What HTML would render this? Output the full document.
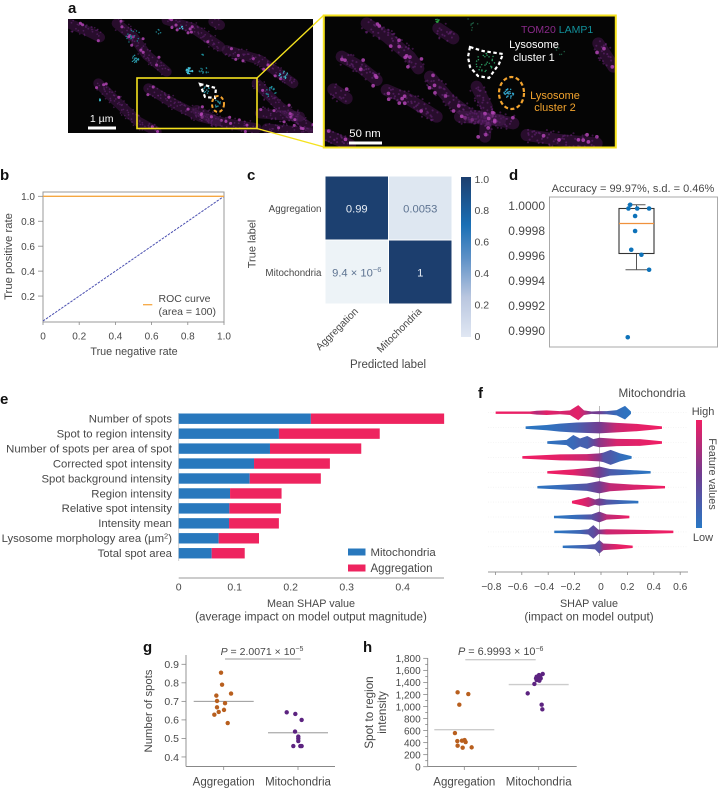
<!DOCTYPE html>
<html lang="en">
<head>
<meta charset="utf-8">
<title>Lysosome classification figure</title>
<style>
html,body{margin:0;padding:0;background:#fff;width:719px;height:788px;overflow:hidden}
svg{display:block}
text{font-family:"Liberation Sans",sans-serif;font-size:10.5px;fill:#484848}
.pl{font-size:15px;font-weight:bold;fill:#111}
</style>
</head>
<body>
<svg id="fig" width="719" height="788" viewBox="0 0 719 788" xmlns="http://www.w3.org/2000/svg">
<defs>
<clipPath id="clipA"><rect x="68" y="19" width="245" height="114"/></clipPath>
<clipPath id="clipI"><rect x="323" y="15" width="293" height="133"/></clipPath>
<filter id="soft" x="-5%" y="-5%" width="110%" height="110%"><feGaussianBlur stdDeviation="0.55"/></filter>
</defs>

<!-- panel letters -->
<text class="pl" x="68" y="13">a</text>
<text class="pl" x="0" y="180">b</text>
<text class="pl" x="247" y="180">c</text>
<text class="pl" x="509" y="180">d</text>
<text class="pl" x="0" y="404">e</text>
<text class="pl" x="478" y="398">f</text>
<text class="pl" x="143" y="652">g</text>
<text class="pl" x="363" y="652">h</text>

<!-- panel a -->
<g>
<rect x="68" y="19" width="245" height="114" fill="#050505"/>
<g id="overviewTubes" clip-path="url(#clipA)"></g>
<rect x="323" y="15" width="293" height="133" fill="#050505"/>
<g id="insetTubes" clip-path="url(#clipI)"></g>
<path d="M200,84 L216,88 L215,98 L205,97 Z" fill="none" stroke="#fff" stroke-width="2.2" stroke-dasharray="3.5 2.5"/>
<ellipse cx="218" cy="104" rx="6" ry="8" fill="none" stroke="#f2a32e" stroke-width="2" stroke-dasharray="3.5 2.5"/>
<rect x="137" y="78" width="120" height="50.5" fill="none" stroke="#f5e21e" stroke-width="1.6"/>
<line x1="257" y1="78" x2="324" y2="15" stroke="#f5e21e" stroke-width="1.4"/>
<line x1="257" y1="128.5" x2="324" y2="147" stroke="#f5e21e" stroke-width="1.4"/>
<rect x="323.8" y="15.5" width="292" height="132" fill="none" stroke="#f5e21e" stroke-width="2"/>
<path d="M470,47 L483,51 L503,54 L499,64 L489,78 L478,76 L470,67 L468,57 Z" fill="none" stroke="#fff" stroke-width="2.2" stroke-dasharray="3.5 2.5"/>
<ellipse cx="511.5" cy="93" rx="12.5" ry="16" fill="none" stroke="#f2a32e" stroke-width="2.2" stroke-dasharray="4 2.5"/>
<rect x="88" y="126.5" width="28" height="3" fill="#fff"/>
<text x="101.7" y="122" text-anchor="middle" style="fill:#fff">1 µm</text>
<rect x="349" y="141.5" width="33" height="3" fill="#fff"/>
<text x="365" y="137" text-anchor="middle" style="fill:#fff;font-size:11.3px">50 nm</text>
<text x="521" y="33"><tspan style="fill:#8a2a8a">TOM20</tspan> <tspan style="fill:#12909a">LAMP1</tspan></text>
<text text-anchor="middle" style="font-size:11px"><tspan x="534" y="48" style="fill:#fff">Lysosome</tspan><tspan x="534" y="61" style="fill:#fff">cluster 1</tspan></text>
<text text-anchor="middle" style="font-size:11px"><tspan x="555" y="99" style="fill:#f2a32e">Lysosome</tspan><tspan x="555" y="111" style="fill:#f2a32e">cluster 2</tspan></text>
</g>

<!-- static axis titles -->
<g id="rocChart">
<text x="134" y="355" text-anchor="middle" style="font-size:10.8px">True negative rate</text>
<text transform="translate(12,256.5) rotate(-90)" text-anchor="middle" style="font-size:11.3px">True positive rate</text>
<line x1="143" y1="304.7" x2="152.3" y2="304.7" stroke="#f5a742" stroke-width="1.3"/>
<text><tspan x="158.5" y="302">ROC curve</tspan><tspan x="158.5" y="315">(area = 100)</tspan></text>
</g>
<g id="cmChart">
<text transform="translate(255.5,244) rotate(-90)" text-anchor="middle" style="font-size:11px">True label</text>
<text x="388" y="368" text-anchor="middle" style="font-size:11.5px">Predicted label</text>
</g>
<g id="boxChart">
<text x="633" y="192" text-anchor="middle" style="font-size:11px">Accuracy = 99.97%, s.d. = 0.46%</text>
<rect x="549.5" y="197" width="168" height="150" fill="none" stroke="#aaa" stroke-width="1"/>
</g>
<g id="barChart">
<text text-anchor="middle"><tspan x="311" y="607" style="font-size:10.8px">Mean SHAP value</tspan><tspan x="311" y="620.5" style="font-size:11.65px">(average impact on model output magnitude)</tspan></text>
<rect x="348" y="548.5" width="17.5" height="7" fill="#2878bd"/>
<text x="370.5" y="556" style="font-size:11.4px">Mitochondria</text>
<rect x="348" y="564.5" width="17.5" height="7" fill="#ee245f"/>
<text x="370.5" y="572" style="font-size:11.5px">Aggregation</text>
</g>
<g id="swarmChart">
<text x="652" y="397" text-anchor="middle" style="font-size:11.7px">Mitochondria</text>
<text text-anchor="middle"><tspan x="589" y="607" style="font-size:10.8px">SHAP value</tspan><tspan x="589" y="620.5" style="font-size:11.7px">(impact on model output)</tspan></text>
<text x="703" y="415" text-anchor="middle" style="font-size:11px">High</text>
<text x="703" y="541" text-anchor="middle" style="font-size:11px">Low</text>
<text transform="translate(709,474) rotate(90)" text-anchor="middle" style="font-size:10.8px">Feature values</text>
</g>
<g id="gChart">
<text transform="translate(152,711) rotate(-90)" text-anchor="middle" style="font-size:11.3px">Number of spots</text>
<text x="262" y="655" text-anchor="middle"><tspan font-style="italic">P</tspan> = 2.0071 × 10<tspan dy="-4" font-size="7">−5</tspan></text>
<line x1="225" y1="659" x2="300.7" y2="659" stroke="#999" stroke-width="1"/>
</g>
<g id="hChart">
<text text-anchor="middle" transform="translate(373,712.5) rotate(-90)" style="font-size:11.6px"><tspan x="0" y="0">Spot to region</tspan><tspan x="0" y="13">intensity</tspan></text>
<text x="500.7" y="655" text-anchor="middle" style="font-size:10.9px"><tspan font-style="italic">P</tspan> = 6.9993 × 10<tspan dy="-4" font-size="7">−6</tspan></text>
<line x1="465.3" y1="659.7" x2="535.7" y2="659.7" stroke="#ccc" stroke-width="1.4"/>
</g>
</svg>

<script>
/* ---------- microscopy texture (not chart data) ---------- */
const overviewMito = [
 [[210,72],[255,90],[300,112]], [[350,70],[400,110],[440,165],[500,215]], [[500,60],[580,85],[660,140]], [[680,150],[780,180],[880,250]],
 [[295,250],[345,300],[415,365],[470,395]], [[445,265],[520,310],[600,350],[680,370],[770,385]], [[770,250],[840,320],[940,390]],
 [[590,330],[650,365]], [[800,385],[930,398]], [[780,340],[900,350]], [[640,65],[660,75]]
];
const overviewSpeckle = [[568,213,10,30,"#45c0d8"],[612,212,16,14,"#1f7f8c"],[400,110,22,16,"#1f7f8c"],[405,178,12,18,"#2a98a8"],[810,275,18,16,"#1f8f9c"],[850,225,14,12,"#40c0d0"],[300,300,3,4,"#40d0e0"],[545,85,6,5,"#40d0e0"],[650,310,12,10,"#2a98a8"],[620,270,12,10,"#2a98a8"],[475,95,8,5,"#1f7f8c"],[610,163,4,3,"#1f8f9c"]];
const insetMito = [
 [[140,70],[200,110],[270,170],[295,205]], [[65,170],[120,200],[170,240]], [[200,270],[270,300],[350,350]], [[330,230],[390,300],[450,345],[580,370]],
 [[470,260],[500,320],[495,410]], [[20,405],[90,435]], [[620,405],[720,420],[830,430]], [[835,130],[880,200]], [[355,85],[400,115]], [[40,268],[80,295]], [[420,350],[540,360]]
];
const insetSpeckle = [[565,280,16,28,"#35a8d0"],[495,185,30,30,"#2a9a60"],[352,62,6,14,"#2a9a40"],[720,150,16,6,"#1f5a40"],[450,70,26,8,"#1f5a40"]];

/* ---------- ROC chart values ---------- */
const rocX = [0, 1];
const rocY = [1, 1];
const chanceX = [0, 1];
const chanceY = [0, 1];
const rocTicksX = [0, 0.2, 0.4, 0.6, 0.8, 1.0];
const rocTickLabelsX = ["0", "0.2", "0.4", "0.6", "0.8", "1.0"];
const rocTicksY = [0.2, 0.4, 0.6, 0.8, 1.0];
const rocTickLabelsY = ["0.2", "0.4", "0.6", "0.8", "1.0"];

/* ---------- confusion matrix values ---------- */
const cmClasses = ["Aggregation", "Mitochondria"];
const cmValues = [[0.99, 0.0053], [0.0000094, 1]];
const cmLabels = [["0.99", "0.0053"], ["9.4 × 10^−6", "1"]];
const cmBarTicks = [0, 0.2, 0.4, 0.6, 0.8, 1.0];
const cmBarLabels = ["0", "0.2", "0.4", "0.6", "0.8", "1.0"];

/* ---------- box plot values ---------- */
const accuracies = [1.00001, 0.99998, 0.99998, 0.99998, 0.99992, 0.9998, 0.99965, 0.99961, 0.99949, 0.99895];
const accuracyJitter = [-0.18, -0.23, 0.02, 0.36, -0.04, -0.04, -0.15, 0.14, 0.36, -0.25];
const boxQ3 = 0.99998;
const boxMedian = 0.99986;
const boxQ1 = 0.99962;
const whiskerLow = 0.99949;
const whiskerHigh = 1.00001;
const accuracyTicks = [1.0, 0.9998, 0.9996, 0.9994, 0.9992, 0.999];
const accuracyTickLabels = ["1.0000", "0.9998", "0.9996", "0.9994", "0.9992", "0.9990"];

/* ---------- stacked bar values ---------- */
const features = ["Number of spots", "Spot to region intensity", "Number of spots per area of spot", "Corrected spot intensity", "Spot background intensity", "Region intensity", "Relative spot intensity", "Intensity mean", "Lysosome morphology area (µm^2)", "Total spot area"];
const shapMito = [0.236, 0.179, 0.163, 0.1345, 0.1268, 0.0917, 0.0905, 0.0899, 0.0714, 0.0589];
const shapAgg = [0.238, 0.180, 0.163, 0.1355, 0.127, 0.092, 0.092, 0.089, 0.072, 0.059];
const barTicks = [0, 0.1, 0.2, 0.3, 0.4];
const barTickLabels = ["0", "0.1", "0.2", "0.3", "0.4"];

/* ---------- beeswarm values: SHAP value, density, feature value ---------- */
const swarmShap = [
 [-0.798,-0.538,-0.487,-0.412,-0.311,-0.235,-0.172,-0.129,-0.071,-0.013,0.043,0.119,0.182,0.227],
 [-0.571,-0.412,-0.311,-0.184,-0.013,0.119,0.270,0.462],
 [-0.407,-0.260,-0.210,-0.159,-0.104,-0.058,-0.013,0.119,0.295,0.462],
 [-0.596,-0.311,-0.108,-0.013,0.018,0.073,0.144,0.232],
 [-0.407,-0.210,-0.083,-0.013,0.068,0.220,0.376],
 [-0.482,-0.311,-0.108,-0.013,0.068,0.245,0.485],
 [-0.220,-0.146,-0.096,-0.045,-0.013,0.043,0.144,0.283],
 [-0.356,-0.331,-0.184,-0.071,-0.013,0.043,0.144,0.215],
 [-0.354,-0.316,-0.159,-0.096,-0.058,-0.020,0.043,0.346,0.548],
 [-0.290,-0.109,-0.045,-0.013,0.018,0.119,0.240]
];
const swarmDensity = [
 [2,2,4,5,3,5,20,5,2,3,3,6,18,2],
 [2,6,10,13,15,12,9,2],
 [2,6,20,10,17,8,12,9,8,2],
 [2,7,8,10,12,20,10,2],
 [2,7,11,15,8,5,2],
 [2,5,9,16,10,6,2],
 [2,8,13,6,9,6,4,2],
 [2,2,5,6,14,6,4,2],
 [2,2,4,6,18,5,6,4,2],
 [2,4,6,18,8,6,2]
];
const swarmFeature = [
 [1,0.95,0.75,0.95,0.9,0.9,0.95,0.8,0.5,0.5,0.25,0.1,0.05,0.03],
 [0.02,0.05,0.1,0.2,0.5,0.85,0.95,1],
 [0.05,0.1,0.12,0.2,0.2,0.4,0.6,0.9,0.95,1],
 [1,0.95,0.85,0.6,0.3,0.25,0.1,0.02],
 [1,0.95,0.7,0.5,0.25,0.1,0.02],
 [0.03,0.1,0.3,0.5,0.8,0.9,1],
 [1,0.95,0.85,0.6,0.5,0.3,0.15,0.03],
 [0.03,0.03,0.1,0.3,0.5,0.8,0.9,1],
 [0.03,0.03,0.15,0.3,0.35,0.5,0.85,0.95,1],
 [0.03,0.2,0.3,0.3,0.7,0.95,1]
];
const swarmTicks = [-0.8, -0.6, -0.4, -0.2, 0, 0.2, 0.4, 0.6];
const swarmTickLabels = ["−0.8", "−0.6", "−0.4", "−0.2", "0", "0.2", "0.4", "0.6"];

/* ---------- dot plot g values ---------- */
const dotCategories = ["Aggregation", "Mitochondria"];
const spotsAgg = [0.855, 0.79, 0.742, 0.731, 0.702, 0.69, 0.668, 0.654, 0.643, 0.628, 0.583];
const spotsAggJitter = [-0.036, -0.022, 0.099, -0.099, -0.09, 0.018, -0.09, 0.004, -0.067, -0.126, 0.054];
const spotsMito = [0.641, 0.632, 0.60, 0.537, 0.51, 0.499, 0.486, 0.459, 0.459, 0.459];
const spotsMitoJitter = [-0.152, -0.036, 0.049, -0.04, 0.004, 0.004, 0.004, -0.063, 0.031, 0.049];
const spotsMeans = [0.70, 0.53];
const spotsTicks = [0.4, 0.5, 0.6, 0.7, 0.8, 0.9];
const spotsTickLabels = ["0.4", "0.5", "0.6", "0.7", "0.8", "0.9"];

/* ---------- dot plot h values ---------- */
const intensityAgg = [1235, 1207, 1030, 559, 426, 432, 443, 410, 349, 316, 321];
const intensityAggJitter = [-0.09, 0.054, -0.067, -0.126, -0.094, -0.031, 0.004, 0.018, -0.09, -0.022, 0.099];
const intensityMito = [1540, 1523, 1495, 1495, 1468, 1457, 1468, 1440, 1429, 1374, 1218, 1030, 953];
const intensityMitoJitter = [0.054, 0.004, -0.027, 0.018, -0.036, -0.004, 0.027, -0.027, 0.009, -0.058, -0.148, 0.04, 0.049];
const intensityMeans = [615, 1365];
const intensityTicks = [0, 200, 400, 600, 800, 1000, 1200, 1400, 1600, 1800];
const intensityTickLabels = ["0", "200", "400", "600", "800", "1,000", "1,200", "1,400", "1,600", "1,800"];

/* ---------- helpers ---------- */
const NS = "http://www.w3.org/2000/svg";
function make(tag, attrs, parent) {
  const el = document.createElementNS(NS, tag);
  for (const k in attrs) el.setAttribute(k, attrs[k]);
  parent.appendChild(el);
  return el;
}
function tick(parent, x1, y1, x2, y2, color) {
  const t = make("line", {x1: x1, y1: y1, x2: x2, y2: y2, stroke: color || "#888", "stroke-width": 0.8}, parent);
  
  
  return t;
}
function label(parent, x, y, txt, anchor, size) {
  const t = make("text", {x: x, y: y, "text-anchor": anchor || "middle"}, parent);
  if (size) t.style.fontSize = size + "px";
  t.textContent = txt;
  
  
  return t;
}
function axisLine(parent, x1, y1, x2, y2, color) {
  const t = make("line", {x1: x1, y1: y1, x2: x2, y2: y2, stroke: color || "#888", "stroke-width": 0.9}, parent);
  
  
  return t;
}
function hex(c) { return [parseInt(c.slice(1,3),16), parseInt(c.slice(3,5),16), parseInt(c.slice(5,7),16)]; }
function ramp(stops, v) {
  if (v <= stops[0][0]) return stops[0][1];
  for (let i = 1; i < stops.length; i++) {
    if (v <= stops[i][0]) {
      const t = (v - stops[i-1][0]) / (stops[i][0] - stops[i-1][0]);
      const a = hex(stops[i-1][1]), b = hex(stops[i][1]);
      return "rgb(" + a.map((p, j) => Math.round(p + (b[j] - p) * t)).join(",") + ")";
    }
  }
  return stops[stops.length-1][1];
}
const fig = document.getElementById("fig");
const defs = fig.querySelector("defs");

/* ---------- microscopy speckle texture ---------- */
function grain(i) { const s = Math.sin(i * 12.9898) * 43758.5453; return s - Math.floor(s); }
function paintMicro(host, tubes, speckles, ox, spread, blobScale) {
  const g = make("g", {transform: "translate(" + ox + ",0) scale(" + (1/3) + ")", filter: "url(#soft)"}, host);
  
  
  let seed = 1;
  tubes.forEach(pts => {
    const haze = make("polyline", {points: pts.map(p => p.join(",")).join(" "), fill: "none", stroke: "#4a1a54", "stroke-width": spread * 1.5, "stroke-linecap": "round", "stroke-opacity": 0.5}, g);
    
    
    for (let s = 1; s < pts.length; s++) {
      const a = pts[s-1], b = pts[s];
      const len = Math.hypot(b[0]-a[0], b[1]-a[1]);
      const nx = -(b[1]-a[1]) / len, ny = (b[0]-a[0]) / len;
      for (let d = 0; d < len; d += 3.2) {
        const t = d / len;
        const off = (grain(seed++) - 0.5) * 2 * spread;
        const along = (grain(seed++) - 0.5) * 8;
        const bright = grain(seed++);
        const cx = a[0] + (b[0]-a[0]) * t + nx * off + along * (b[0]-a[0]) / len;
        const cy = a[1] + (b[1]-a[1]) * t + ny * off + along * (b[1]-a[1]) / len;
        const hot = bright > 0.88;
        const r = (hot ? 4.6 : 2.6) * blobScale;
        const dot = make("circle", {cx: cx.toFixed(1), cy: cy.toFixed(1), r: r, fill: hot ? "#b144b4" : "#6f2680", "fill-opacity": hot ? 0.85 : 0.5}, g);
        
        
      }
    }
  });
  speckles.forEach(c => {
    for (let k = 0; k < c[3]; k++) {
      const ang = grain(seed++) * 6.283, rad = Math.sqrt(grain(seed++)) * c[2];
      const dot = make("circle", {cx: (c[0] + Math.cos(ang) * rad).toFixed(1), cy: (c[1] + Math.sin(ang) * rad).toFixed(1), r: 2.2, fill: c[4]}, g);
      
      
    }
  });
}
paintMicro(document.getElementById("overviewTubes"), overviewMito, overviewSpeckle, 0, 20, 1);
paintMicro(document.getElementById("insetTubes"), insetMito, insetSpeckle, 320, 24, 1.2);

/* ---------- panel b ---------- */
(function () {
  const host = document.getElementById("rocChart");
  const x = v => 43 + v * 181;
  const y = v => 321 - v * 124.7;
  const frame = make("rect", {x: 43, y: 192, width: 181, height: 130, fill: "none", stroke: "#999", "stroke-width": 1}, host);
  
  
  rocTicksX.forEach((v, i) => { tick(host, x(v), 322, x(v), 325); label(host, x(v), 339.5, rocTickLabelsX[i], "middle", 10); });
  rocTicksY.forEach((v, i) => { tick(host, 38, y(v), 43, y(v)); label(host, 35, y(v) + 3.8, rocTickLabelsY[i], "end", 10); });
  const chance = make("polyline", {points: chanceX.map((v, i) => x(v) + "," + y(chanceY[i])).join(" "), fill: "none", stroke: "#4a4fb0", "stroke-width": 1, "stroke-dasharray": "2.5 1.2"}, host);
  
  
  const roc = make("polyline", {points: rocX.map((v, i) => x(v) + "," + y(rocY[i])).join(" "), fill: "none", stroke: "#f5a742", "stroke-width": 1.3}, host);
  
  
})();

/* ---------- panel c ---------- */
(function () {
  const host = document.getElementById("cmChart");
  const stops = [[0, "#edf3f7"], [0.005, "#dee7f1"], [0.25, "#b9c6df"], [0.5, "#5b8fc6"], [0.7, "#1a6fb5"], [1, "#1c3e6e"]];
  const x0 = 325, y0 = 176, cw = 63.5, ch = 64;
  cmValues.forEach((row, r) => row.forEach((v, c) => {
    const cell = make("rect", {x: x0 + c * cw + 0.5, y: y0 + r * ch + 0.5, width: cw - 1, height: ch - 1, fill: ramp(stops, v)}, host);
    
    
    const parts = cmLabels[r][c].split("^");
    const t = make("text", {x: x0 + c * cw + cw / 2, y: y0 + r * ch + ch / 2 + 4.5, "text-anchor": "middle"}, host);
    t.style.fontSize = "11.2px";
    t.style.fill = v > 0.5 ? "#e8eef5" : "#5d7391";
    t.textContent = parts[0];
    
    
    if (parts[1]) {
      const s = make("tspan", {dy: -4.5, "font-size": 7.5}, t);
      s.style.fill = "#5d7391";
      s.textContent = parts[1];
    }
  }));
  cmClasses.forEach((name, i) => {
    label(host, 321.5, y0 + i * ch + ch / 2 + 4, name, "end", 9.8);
    const px = x0 + i * cw + cw / 2 + 2, py = 312;
    const t = make("text", {transform: "translate(" + px + "," + py + ") rotate(-45)", "text-anchor": "end"}, host);
    t.style.fontSize = "10.2px";
    t.textContent = name;
    
    
  });
  const grad = make("linearGradient", {id: "cmGrad", x1: 0, y1: 1, x2: 0, y2: 0}, defs);
  [[0, "#e0e7f3"], [0.25, "#b9c6df"], [0.5, "#5b8fc6"], [0.7, "#1a6fb5"], [1, "#1c3e6e"]].forEach(s => make("stop", {offset: s[0], "stop-color": s[1]}, grad));
  const bar = make("rect", {x: 461, y: 177, width: 10, height: 160, fill: "url(#cmGrad)"}, host);
  
  
  const by = v => 336 - v * 157;
  cmBarTicks.forEach((v, i) => label(host, 474.5, by(v) + 3.8, cmBarLabels[i], "start"));
})();

/* ---------- panel d ---------- */
(function () {
  const host = document.getElementById("boxChart");
  const y = v => 206 + (1 - v) * 125000;
  const cx = 636.5, bw = 35;
  accuracyTicks.forEach((v, i) => label(host, 545, y(v) + 4, accuracyTickLabels[i], "end", 12));
  const whisk = make("path", {d: "M" + cx + "," + y(boxQ1) + "V" + y(whiskerLow) + "M" + (cx - 11) + "," + y(whiskerLow) + "H" + (cx + 11) + "M" + cx + "," + y(boxQ3) + "V" + y(whiskerHigh) + "M" + (cx - 9) + "," + y(whiskerHigh) + "H" + (cx + 9), fill: "none", stroke: "#555", "stroke-width": 1}, host);
  
  
  const box = make("rect", {x: cx - bw / 2, y: y(boxQ3), width: bw, height: y(boxQ1) - y(boxQ3), fill: "none", stroke: "#333", "stroke-width": 1.1}, host);
  
  
  const med = make("line", {x1: cx - bw / 2, x2: cx + bw / 2, y1: y(boxMedian), y2: y(boxMedian), stroke: "#f0913c", "stroke-width": 1.2}, host);
  
  
  accuracies.forEach((v, i) => {
    const d = make("circle", {cx: cx + accuracyJitter[i] * bw, cy: y(v), r: 2.3, fill: "#0d72b9"}, host);
    
    
  });
})();

/* ---------- panel e ---------- */
(function () {
  const host = document.getElementById("barChart");
  const x = v => 178.7 + v * 560;
  const rowY = i => 418.7 + i * 14.95;
  axisLine(host, 178.7, 413, 178.7, 561, "#ccc");
  axisLine(host, 178.7, 578, 444, 578, "#999");
  features.forEach((name, i) => {
    const parts = name.split("^");
    const t = make("text", {x: 172, y: rowY(i) + 3.8, "text-anchor": "end"}, host);
    t.style.fontSize = "11.35px";
    t.textContent = parts[0];
    
    
    if (parts[1]) {
      const s = make("tspan", {dy: -3.5, "font-size": 7.5}, t);
      s.textContent = parts[1].replace(")", "");
      const r = make("tspan", {dy: 3.5}, t);
      r.textContent = ")";
    }
    const a = make("rect", {x: x(0), y: rowY(i) - 5.2, width: x(shapMito[i]) - x(0), height: 10.4, fill: "#2878bd"}, host);
    
    
    const b = make("rect", {x: x(shapMito[i]), y: rowY(i) - 5.2, width: x(shapAgg[i]) - x(0), height: 10.4, fill: "#ee245f"}, host);
    
    
  });
  barTicks.forEach((v, i) => label(host, x(v), 590.5, barTickLabels[i]));
})();

/* ---------- panel f ---------- */
(function () {
  const host = document.getElementById("swarmChart");
  const x = v => 601 + v * 132;
  const rowY = i => 412.7 + i * 14.9;
  const stops = [[0, "#2878c4"], [0.5, "#723c90"], [1, "#f01e64"]];
  swarmShap.forEach((_, i) => {
    const grid = make("line", {x1: 488, x2: 688, y1: rowY(i), y2: rowY(i), stroke: "#eee", "stroke-width": 0.6, "stroke-dasharray": "1 1.5"}, host);
    
    
  });
  const zero = make("line", {x1: 599.5, x2: 599.5, y1: 406, y2: 556, stroke: "#aaa", "stroke-width": 0.8}, host);
  
  
  swarmShap.forEach((vals, i) => {
    const dens = swarmDensity[i], feat = swarmFeature[i];
    const gid = "swarmGrad" + i;
    const lg = make("linearGradient", {id: gid, gradientUnits: "userSpaceOnUse", x1: x(vals[0]), x2: x(vals[vals.length - 1]), y1: 0, y2: 0}, defs);
    vals.forEach((v, j) => {
      make("stop", {offset: (x(v) - x(vals[0])) / (x(vals[vals.length - 1]) - x(vals[0])), "stop-color": ramp(stops, feat[j])}, lg);
    });
    const hh = d => (d + 1.5) / 3 * 1.05;
    const up = vals.map((v, j) => x(v) + "," + (rowY(i) - hh(dens[j])));
    const lo = vals.map((v, j) => x(v) + "," + (rowY(i) + hh(dens[j]))).reverse();
    const p = make("polygon", {points: up.concat(lo).join(" "), fill: "url(#" + gid + ")"}, host);
    
    
  });
  axisLine(host, 488, 572, 688, 572, "#999");
  swarmTicks.forEach((v, i) => {
    tick(host, x(v), 572, x(v), 575);
    label(host, x(v) - (v < 0 ? 4 : 0), 590, swarmTickLabels[i], "middle", 10.2);
  });
  const lg = make("linearGradient", {id: "shapGrad", x1: 0, y1: 1, x2: 0, y2: 0}, defs);
  stops.forEach(s => make("stop", {offset: s[0], "stop-color": s[1]}, lg));
  const bar = make("rect", {x: 696, y: 420, width: 6, height: 108, fill: "url(#shapGrad)"}, host);
  
  
})();

/* ---------- panels g, h ---------- */
function dotPlot(host, opt) {
  const y = opt.y;
  axisLine(host, opt.left, opt.top, opt.left, 766.5);
  axisLine(host, opt.left, 766.5, opt.right, 766.5);
  opt.ticks.forEach((v, i) => {
    tick(host, opt.left - 4.5, y(v), opt.left, y(v));
    label(host, opt.left - 7, y(v) + 3.8, opt.tickLabels[i], "end", opt.tickSize);
  });
  if (opt.minor) opt.ticks.slice(0, -1).forEach(v => tick(host, opt.left - 2.5, y(v + opt.minor), opt.left, y(v + opt.minor)));
  dotCategories.forEach((name, i) => {
    tick(host, opt.cx[i], 766.5, opt.cx[i], 770);
    label(host, opt.cx[i], 785.5, name, "middle", 11.5);
    const m = make("line", {x1: opt.cx[i] - 30, x2: opt.cx[i] + 30, y1: y(opt.means[i]), y2: y(opt.means[i]), stroke: opt.meanColor, "stroke-width": opt.meanWidth}, host);
    
    
  });
  opt.groups.forEach((g, i) => g.values.forEach((v, j) => {
    const d = make("circle", {cx: opt.cx[i] + g.jitter[j] * 74.3, cy: y(v), r: 2.2, fill: g.color}, host);
    
    
  }));
}
dotPlot(document.getElementById("gChart"), {
  left: 186, right: 335, top: 655, tickSize: 10.5,
  y: v => 664.3 + (0.9 - v) * 185.3,
  ticks: spotsTicks, tickLabels: spotsTickLabels,
  cx: [223.7, 298], means: spotsMeans, meanColor: "#888", meanWidth: 0.9,
  groups: [{values: spotsAgg, jitter: spotsAggJitter, color: "#b85f1e"}, {values: spotsMito, jitter: spotsMitoJitter, color: "#5c2380"}]
});
dotPlot(document.getElementById("hChart"), {
  left: 427.7, right: 576.7, top: 658, tickSize: 10,
  y: v => 766.7 - v * 0.0602,
  ticks: intensityTicks, tickLabels: intensityTickLabels, minor: 100,
  cx: [464.3, 538.7], means: intensityMeans, meanColor: "#ccc", meanWidth: 1.4,
  groups: [{values: intensityAgg, jitter: intensityAggJitter, color: "#b85f1e"}, {values: intensityMito, jitter: intensityMitoJitter, color: "#5c2380"}]
});
</script>
</body>
</html>
